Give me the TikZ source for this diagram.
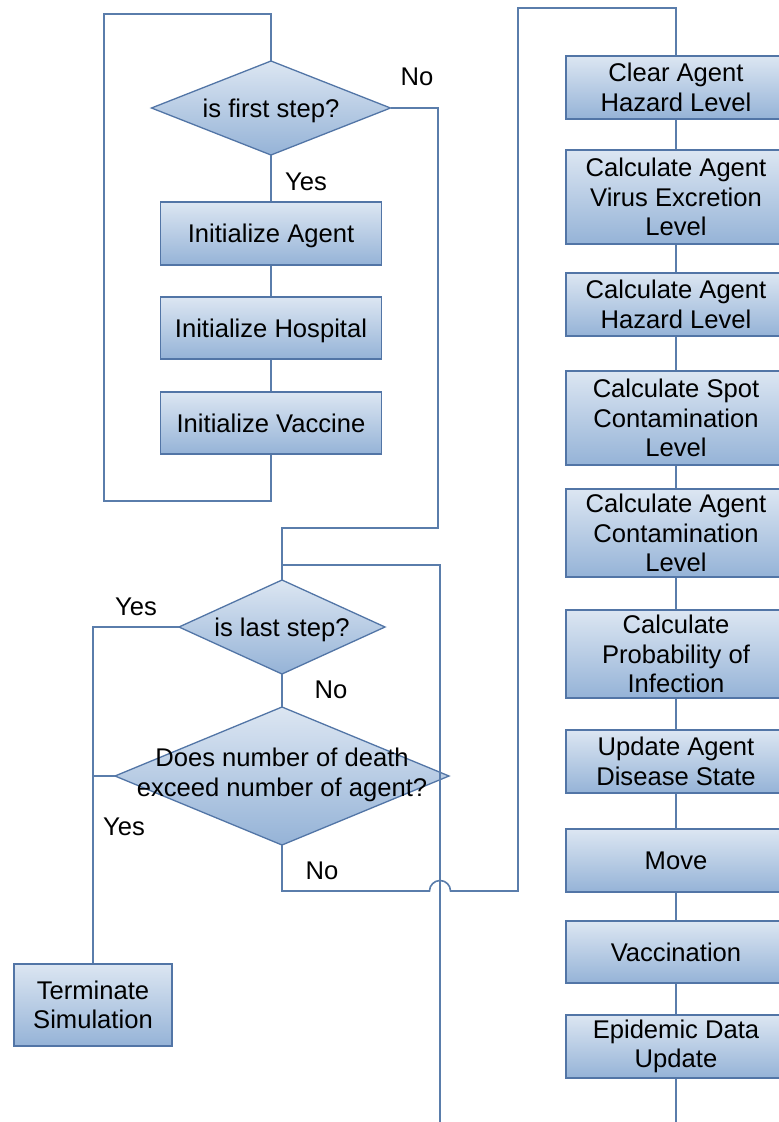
\documentclass[tikz,border=0pt]{standalone}
\usepackage{fontspec}
\setmainfont{Liberation Sans}
\usetikzlibrary{shapes.geometric}
\definecolor{flowblue}{HTML}{5A7DAB}
\definecolor{edgeblue}{HTML}{5275A6}
\definecolor{filltop}{HTML}{DCE6F2}
\definecolor{fillbot}{HTML}{95B3D7}
\newcommand\chartfont{\fontsize{25.6}{29.5}\selectfont}
\tikzset{
  flow/.style={draw=flowblue, line width=1.6pt},
  procbox/.style={rectangle, draw=edgeblue, line width=1.5pt,
    top color=filltop, bottom color=fillbot, align=center,
    inner sep=0pt, font=\chartfont},
  decision/.style={diamond, draw=edgeblue, line width=1.3pt,
    top color=filltop, bottom color=fillbot, inner sep=0pt, outer sep=0pt},
  caption/.style={font=\chartfont, inner sep=0pt, align=center},
  oneline/.style={text depth=0pt},
}
\begin{document}
\begin{tikzpicture}[x=1pt, y=-1pt]
\clip (0,0) rectangle (779,1122);
\fill[white] (0,0) rectangle (779,1122);

% --- initialisation branch ---
\node[decision, minimum width=239, minimum height=94] (d1) at (271,108) {};
\node[caption, oneline] (d1t) at (d1.center) {is first step?};
\node[procbox, oneline, minimum width=221, minimum height=63] (ia) at (271,233.5) {Initialize Agent};
\node[procbox, oneline, minimum width=221, minimum height=62] (ih) at (271,328) {Initialize Hospital};
\node[procbox, oneline, minimum width=221, minimum height=62] (iv) at (271,423) {Initialize Vaccine};

% --- termination checks ---
\node[decision, minimum width=206, minimum height=94] (d2) at (282,627) {};
\node[caption, oneline] (d2t) at (d2.center) {is last step?};
\node[decision, minimum width=334, minimum height=138] (d3) at (282,776) {};
\node[caption] (d3t) at (282,775) {Does number of death\\exceed number of agent?};
\node[procbox, minimum width=158, minimum height=82] (term) at (93,1005) {Terminate\\Simulation};

% --- per-step processing column ---
\node[procbox, minimum width=220, minimum height=63] (r1) at (676,87.5) {Clear Agent\\Hazard Level};
\node[procbox, minimum width=220, minimum height=94] (r2) at (676,197) {Calculate Agent\\Virus Excretion\\Level};
\node[procbox, minimum width=220, minimum height=63] (r3) at (676,304.5) {Calculate Agent\\Hazard Level};
\node[procbox, minimum width=220, minimum height=94] (r4) at (676,418) {Calculate Spot\\Contamination\\Level};
\node[procbox, minimum width=220, minimum height=88] (r5) at (676,533) {Calculate Agent\\Contamination\\Level};
\node[procbox, minimum width=220, minimum height=88] (r6) at (676,654) {Calculate\\Probability of\\Infection};
\node[procbox, minimum width=220, minimum height=63] (r7) at (676,761.5) {Update Agent\\Disease State};
\node[procbox, oneline, minimum width=220, minimum height=63] (r8) at (676,860.5) {Move};
\node[procbox, oneline, minimum width=220, minimum height=62] (r9) at (676,952) {Vaccination};
\node[procbox, minimum width=220, minimum height=63] (r10) at (676,1046.5) {Epidemic Data\\Update};

% --- branch labels ---
\node[caption] (lno1) at (417,77) {No};
\node[caption] (lyes1) at (306,182) {Yes};
\node[caption] (lyes2) at (136,607) {Yes};
\node[caption] (lno2) at (331,690) {No};
\node[caption] (lyes3) at (124,827) {Yes};
\node[caption] (lno3) at (322,871) {No};

% --- routing points ---
\coordinate (loopB) at (104,501);
\coordinate (loopT) at (104,14);
\coordinate (skip) at (438,528);
\coordinate (back) at (282,565);
\coordinate (backIn) at (440,1130);
\coordinate (tj) at (93,776);
\coordinate (hopL) at (429.5,891);
\coordinate (runR) at (518,891);
\coordinate (runT) at (518,8);
\coordinate (tail) at (676,1130);

\begin{scope}[flow]
  % initialisation loop
  \draw (iv.south) |- (loopB) -- (loopT) -| (d1.north);
  \draw (d1.south) -- (ia.north);
  \draw (ia.south) -- (ih.north);
  \draw (ih.south) -- (iv.north);
  % skip initialisation
  \draw (d1.east) -| (skip) -| (d2.north);
  % return from the processing column
  \draw (backIn) |- (back);
  % end checks
  \draw (d2.west) -| (term.north);
  \draw (d2.south) -- (d3.north);
  \draw (d3.west) -- (tj);
  % continue to processing, hopping over the return line
  \draw (d3.south) |- (hopL) arc[start angle=180, end angle=0, radius=10.5pt]
        -- (runR) -- (runT) -| (r1.north);
  % processing chain
  \draw (r1.south) -- (r2.north);
  \draw (r2.south) -- (r3.north);
  \draw (r3.south) -- (r4.north);
  \draw (r4.south) -- (r5.north);
  \draw (r5.south) -- (r6.north);
  \draw (r6.south) -- (r7.north);
  \draw (r7.south) -- (r8.north);
  \draw (r8.south) -- (r9.north);
  \draw (r9.south) -- (r10.north);
  \draw (r10.south) -- (tail);
\end{scope}
\end{tikzpicture}
\end{document}
